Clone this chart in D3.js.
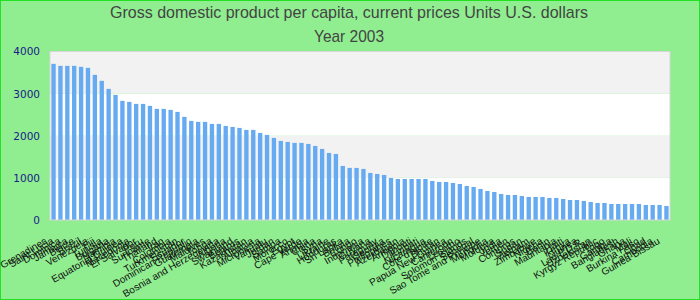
<!DOCTYPE html>
<html><head><meta charset="utf-8">
<script src="https://cdn.jsdelivr.net/npm/d3@7/dist/d3.min.js"></script>
<style>body{margin:0;background:#90ee90;} svg{display:block;}</style>
</head><body><svg id="c" width="700" height="300"></svg>
<script>
const titleLines = ["Gross domestic product per capita, current prices Units U.S. dollars", "Year 2003"];
const titleWidths = [478, 70];
const countries = ["Saint Vincent and the Grenadines","Saint Lucia","Dominica","Jamaica","Belize","Brazil","Venezuela","Fiji","Tunisia","Bulgaria","Namibia","Equatorial Guinea","Macedonia","El Salvador","Peru","Suriname","Thailand","Iran","Colombia","Turkmenistan","Ecuador","Dominican Republic","Guatemala","Maldives","Tonga","Bosnia and Herzegovina","Algeria","Swaziland","Belarus","Kazakhstan","Albania","Micronesia","Vanuatu","Jordan","Samoa","Morocco","Egypt","Cape Verde","Angola","China","Syria","Ukraine","Honduras","Sri Lanka","Bolivia","Congo","Indonesia","Guyana","Paraguay","Georgia","Philippines","Azerbaijan","Armenia","Djibouti","Kiribati","Nicaragua","Côte d'Ivoire","Bhutan","Papua New Guinea","Cameroon","Lesotho","Solomon Islands","Senegal","Sao Tome and Principe","Mongolia","Moldova","India","Yemen","Comoros","Sudan","Vietnam","Zimbabwe","Nigeria","Benin","Mauritania","Haiti","Kenya","Guinea","Lao P.D.R.","Uzbekistan","Kyrgyz Republic","Togo","Gambia","Bangladesh","Ghana","Mali","Burkina Faso","Chad","Cambodia","Guinea-Bissau"];
const values = [3707,3659,3659,3659,3636,3612,3446,3303,3113,2970,2828,2804,2756,2756,2709,2638,2638,2614,2566,2448,2352,2329,2329,2281,2281,2234,2210,2186,2139,2139,2067,2020,1948,1877,1853,1830,1830,1806,1758,1687,1592,1568,1283,1236,1236,1212,1117,1093,1069,998,974,974,974,974,974,927,903,903,879,855,808,784,737,689,665,618,594,594,570,547,547,547,523,523,499,475,475,451,428,404,404,380,380,380,380,380,356,356,356,333];
const yTicks = [0,1000,2000,3000,4000];

const svg = d3.select("#c");
const W = 700, H = 300;
const m = {l:50, r:30, t:51.5, b:80};
svg.append("rect").attr("x",0.5).attr("y",0.5).attr("width",W-1).attr("height",H-1)
  .attr("fill","#90ee90").attr("stroke","#22e022").attr("stroke-width",1);

const x = d3.scaleBand().domain(countries).range([m.l, W-m.r]).paddingInner(0.37).paddingOuter(0.2);
const y = d3.scaleLinear().domain([0,4000]).range([H-m.b, m.t]);

// bands
const bandData = d3.pairs(yTicks);
svg.append("g").selectAll("rect").data(bandData).join("rect")
  .attr("x", m.l).attr("width", W-m.r-m.l)
  .attr("y", d=>y(d[1])).attr("height", d=>y(d[0])-y(d[1]))
  .attr("fill",(d,i)=> i%2===0 ? "#ffffff" : "#f2f2f2");

// bars
svg.append("g").selectAll("rect").data(values).join("rect")
  .attr("x",(d,i)=>x(countries[i])).attr("width",x.bandwidth())
  .attr("y",d=>y(d)).attr("height",d=>y(0)-y(d)).attr("fill","#66aaf2");

// frame
svg.append("rect").attr("x",m.l).attr("y",m.t).attr("width",W-m.r-m.l).attr("height",y(0)-m.t)
  .attr("fill","none").attr("stroke","#d6d6d6").attr("stroke-width",1);

// y axis
const ya = d3.axisLeft(y).tickValues(yTicks).tickSize(0).tickPadding(10).tickFormat(d3.format("d"));
const yg = svg.append("g").attr("transform",`translate(${m.l},0)`).call(ya);
yg.select(".domain").remove();
yg.selectAll("text").attr("fill","#1a1a8a").style("font-family","DejaVu Sans").style("font-size","10.5px");

// x axis
const xa = d3.axisBottom(x).tickSize(0).tickPadding(0);
const xg = svg.append("g").attr("transform",`translate(0,${y(0)})`).call(xa);
xg.select(".domain").remove();
xg.selectAll("text")
  .attr("y",0).attr("dy",0).attr("x",0)
  .attr("transform","translate(-6,23) rotate(-30)")
  .style("text-anchor","end")
  .attr("fill","#111").style("font-family","Liberation Sans").style("font-size","10px");

// title
svg.append("g").selectAll("text").data(titleLines).join("text")
  .attr("x",349).attr("y",(d,i)=>18+i*24).attr("text-anchor","middle")
  .attr("textLength",(d,i)=>titleWidths[i]).attr("lengthAdjust","spacingAndGlyphs")
  .attr("fill","#444").style("font-family","Liberation Sans").style("font-size","17px")
  .text(d=>d);
</script></body></html>
